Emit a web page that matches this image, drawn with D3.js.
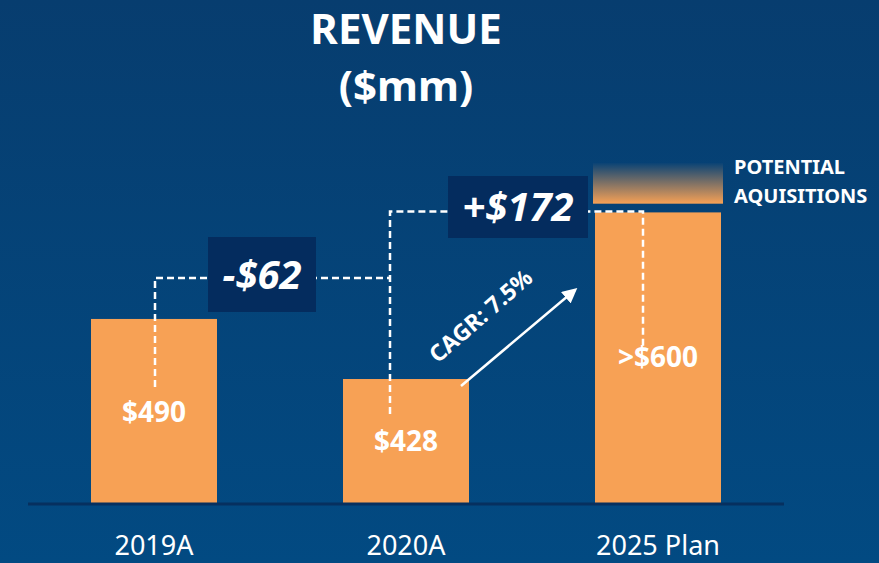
<!DOCTYPE html>
<html lang="en">
<head>
<meta charset="utf-8">
<title>Revenue</title>
<style>
    body { margin: 0; background: #03457a; }
    svg { display: block; font-family: "Source Sans Pro", "Noto Sans", "Open Sans", sans-serif; }
    .lbl { fill: #fff; font-weight: 700; text-anchor: middle; }
    .dash { fill: none; stroke: #fff; stroke-width: 2.5; stroke-dasharray: 7 4; }
</style>
</head>
<body>
<svg width="879" height="563"></svg>
<script src="https://cdn.jsdelivr.net/npm/d3@7"></script>
<script>
    // data
    const categories = ["2019A", "2020A", "2025 Plan"];
    const revenue = [490, 428, 600];
    const valueLabels = ["$490", "$428", ">$600"];
    const acquisitionRange = [609, 651];   // faded "potential acquisitions" band above 2025
    const changeLabels = ["-$62", "+$172"];
    const cagrLabel = "CAGR: 7.5%";

    const width = 879, height = 563;
    const svg = d3.select("svg");

    // background gradient
    const defs = svg.append("defs");
    const bg = defs.append("linearGradient").attr("id", "bg")
        .attr("x1", 0).attr("y1", 0).attr("x2", 0).attr("y2", 1);
    bg.append("stop").attr("offset", "0%").attr("stop-color", "#073d6f");
    bg.append("stop").attr("offset", "100%").attr("stop-color", "#024a82");
    const acq = defs.append("linearGradient").attr("id", "acq")
        .attr("x1", 0).attr("y1", 0).attr("x2", 0).attr("y2", 1);
    acq.append("stop").attr("offset", "0%").attr("stop-color", "#0a4375");
    acq.append("stop").attr("offset", "100%").attr("stop-color", "#f7a155");
    defs.append("marker").attr("id", "arrow")
        .attr("viewBox", "0 0 10 10").attr("refX", 8).attr("refY", 5)
        .attr("markerWidth", 6).attr("markerHeight", 6).attr("orient", "auto")
        .append("path").attr("d", "M0,0 L10,5 L0,10 Z").attr("fill", "#fff");

    svg.append("rect").attr("width", width).attr("height", height).attr("fill", "url(#bg)");

    // scales
    const x = d3.scaleBand().domain(categories).range([28, 784]).paddingInner(1).paddingOuter(0.5);
    const bw = 126;
    const cx = d => x(d);
    const y = d3.scaleLinear().domain([300, 651]).range([503, 163]);

    // title
    svg.append("text").attr("class", "lbl").attr("x", 406).attr("y", 44)
        .style("font-size", "42px").text("REVENUE");
    svg.append("text").attr("class", "lbl").attr("x", 406).attr("y", 101)
        .style("font-size", "42px").text("($mm)");

    // potential acquisitions band
    svg.append("rect")
        .attr("x", cx(categories[2]) - bw / 2 - 2)
        .attr("width", bw + 4)
        .attr("y", y(acquisitionRange[1]))
        .attr("height", y(acquisitionRange[0]) - y(acquisitionRange[1]))
        .attr("fill", "url(#acq)");
    svg.append("text").attr("x", 734).attr("y", 174)
        .attr("fill", "#fff").style("font-weight", 700).style("font-size", "20px")
        .text("POTENTIAL");
    svg.append("text").attr("x", 734).attr("y", 203)
        .attr("fill", "#fff").style("font-weight", 700).style("font-size", "20px")
        .text("AQUISITIONS");

    // bars
    svg.selectAll(".bar").data(revenue).enter().append("rect")
        .attr("class", "bar")
        .attr("x", (d, i) => cx(categories[i]) - bw / 2)
        .attr("width", bw)
        .attr("y", d => y(d))
        .attr("height", d => y.range()[0] - y(d))
        .attr("fill", "#f7a155");

    // baseline
    svg.append("line").attr("x1", 28).attr("x2", 784).attr("y1", 504).attr("y2", 504)
        .attr("stroke", "#06305f").attr("stroke-width", 3);

    // category labels
    svg.selectAll(".cat").data(categories).enter().append("text")
        .attr("x", d => cx(d)).attr("y", 555)
        .attr("text-anchor", "middle").attr("fill", "#fff")
        .style("font-size", "27px")
        .text(d => d);

    // dashed connectors
    const x0 = cx(categories[0]) + 1, x1 = cx(categories[1]) - 16, x2 = cx(categories[2]) - 15;
    const yStep1 = y(revenue[0]) - 41;
    const yStep2 = y(revenue[2]) - 1;
    svg.append("path").attr("class", "dash")
        .attr("d", d3.line()([[x0, y(revenue[0]) + 68], [x0, yStep1], [x1, yStep1]]));
    svg.append("path").attr("class", "dash")
        .attr("d", d3.line()([[x1, y(revenue[1]) + 35], [x1, yStep2], [x2, yStep2], [x2, y(revenue[2]) + 134]]));

    // change boxes
    const boxes = [
        {text: changeLabels[0], x: 208, y: 237, w: 108, h: 75, fs: 40},
        {text: changeLabels[1], x: 448, y: 176, w: 140, h: 62, fs: 40}
    ];
    boxes.forEach(b => {
        svg.append("rect").attr("x", b.x).attr("y", b.y).attr("width", b.w).attr("height", b.h)
            .attr("fill", "#042c5e");
        svg.append("text").attr("class", "lbl")
            .attr("x", b.x + b.w / 2).attr("y", b.y + b.h / 2 + 14)
            .style("font-size", b.fs + "px").style("font-style", "italic")
            .text(b.text);
    });

    // value labels inside bars
    const labelOffset = [103, 72, 155];
    svg.selectAll(".val").data(valueLabels).enter().append("text")
        .attr("class", "lbl")
        .attr("x", (d, i) => cx(categories[i]))
        .attr("y", (d, i) => y(revenue[i]) + labelOffset[i])
        .style("font-size", "28px")
        .text(d => d);

    // CAGR arrow
    const ax1 = cx(categories[1]) + 55, ay1 = y(revenue[1]) + 7;
    svg.append("line").attr("x1", ax1).attr("y1", ay1).attr("x2", 575).attr("y2", 290)
        .attr("stroke", "#fff").attr("stroke-width", 2.5).attr("marker-end", "url(#arrow)");
    svg.append("text").attr("class", "lbl")
        .attr("transform", "translate(486,322) rotate(-41)")
        .style("font-size", "23px")
        .text(cagrLabel);
</script>
</body>
</html>
